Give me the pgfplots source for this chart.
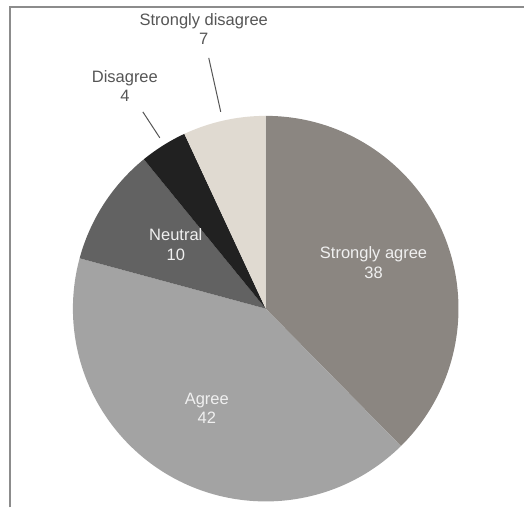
\documentclass[border=0pt]{standalone}
\usepackage{pgfplots}
\usepackage{pgfplotstable}
\usepackage{fontspec}
\setmainfont{Liberation Sans}
\pgfplotsset{compat=1.18}

\definecolor{csa}{RGB}{139,134,129}
\definecolor{ca}{RGB}{163,163,163}
\definecolor{cn}{RGB}{98,98,98}
\definecolor{cd}{RGB}{33,33,33}
\definecolor{csd}{RGB}{224,218,209}
\definecolor{txtin}{RGB}{240,240,240}
\definecolor{txtout}{RGB}{85,85,85}

% responses, clockwise from 12 o'clock
\pgfplotstableread{
label value col
SA 38 csa
A  42 ca
N  10 cn
D   4 cd
SD  7 csd
}\piedata

\tikzset{lbl/.style={font=\fontsize{16.5bp}{19.5bp}\selectfont, align=center, inner sep=0pt}}

\begin{document}
\begin{tikzpicture}
\begin{axis}[
    x=1bp, y=1bp,
    xmin=0, xmax=525, ymin=0, ymax=508,
    hide axis, clip=false,
]
\path (axis cs:0,0) rectangle (axis cs:525,508);

% total
\def\total{0}
\pgfplotsforeachungrouped \i in {0,...,4}{%
  \pgfplotstablegetelem{\i}{value}\of\piedata
  \pgfmathsetmacro\total{\total+\pgfplotsretval}%
}
% wedges
\def\angA{90}
\pgfplotsforeachungrouped \i in {0,...,4}{%
  \pgfplotstablegetelem{\i}{value}\of\piedata \let\v\pgfplotsretval
  \pgfplotstablegetelem{\i}{col}\of\piedata \let\c\pgfplotsretval
  \pgfmathsetmacro\angB{\angA-360*\v/\total}%
  \edef\temp{\noexpand\fill[\c] (axis cs:266,199) -- ++(\angA:193bp)
    arc[start angle=\angA, end angle=\angB, radius=193bp] -- cycle;}%
  \temp
  \let\angA\angB
}

% frame
\draw[gray!90, line width=1.2bp] (axis cs:10,0) -- (axis cs:10,501) -- (axis cs:525,501);

% labels
\node[lbl, txtin] at (axis cs:374,245) {Strongly agree\\38};
\node[lbl, txtin] at (axis cs:207,99) {Agree\\42};
\node[lbl, txtin] at (axis cs:176,263) {Neutral\\10};
\node[lbl, txtout] at (axis cs:125,422) {Disagree\\4};
\node[lbl, txtout] at (axis cs:204,479) {Strongly disagree\\7};
\draw[txtout, line width=1bp] (axis cs:143,396) -- (axis cs:160,370);
\draw[txtout, line width=1bp] (axis cs:209,450) -- (axis cs:221,396);
\end{axis}
\end{tikzpicture}
\end{document}
